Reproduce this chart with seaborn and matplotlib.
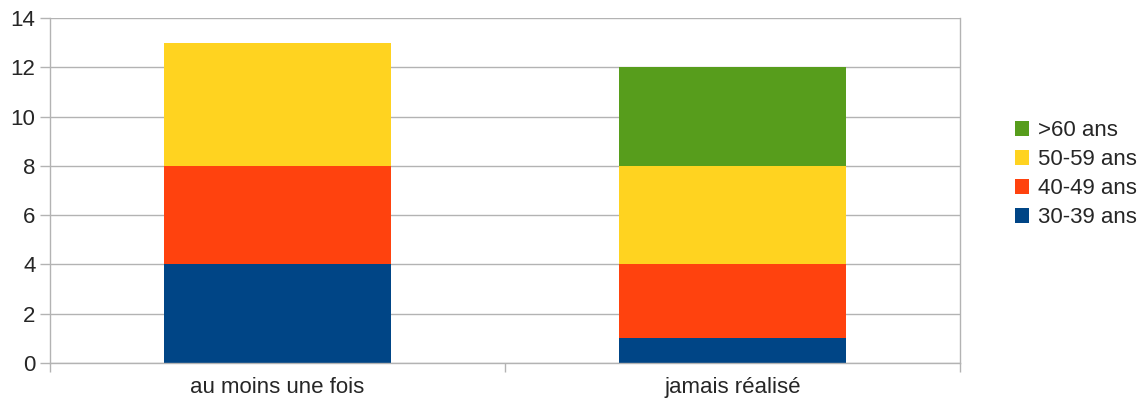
import numpy as np
import pandas as pd
import matplotlib
matplotlib.use("Agg")
import matplotlib.pyplot as plt
import seaborn as sns
from matplotlib.patches import Patch

categories = ["au moins une fois", "jamais réalisé"]
groups = ["30-39 ans", "40-49 ans", "50-59 ans", ">60 ans"]
v_30_39 = [4, 1]
v_40_49 = [4, 3]
v_50_59 = [5, 4]
v_60plus = [0, 4]
colors = ["#004586", "#ff420e", "#ffd320", "#579d1c"]

sns.set_theme(style="white")
plt.rcParams["font.family"] = ["Liberation Sans", "DejaVu Sans"]

series = [v_30_39, v_40_49, v_50_59, v_60plus]
cum = np.cumsum(np.array(series, dtype=float), axis=0)

fig = plt.figure(figsize=(11.41, 4.03), dpi=100)
ax = fig.add_axes([50 / 1141, 40 / 403, 910 / 1141, 345 / 403])

# Stacked bars: draw cumulative totals from the top segment down
for i in range(len(groups) - 1, -1, -1):
    df = pd.DataFrame({"cat": categories, "val": cum[i]})
    sns.barplot(data=df, x="cat", y="val", color=colors[i], width=0.5,
                saturation=1, ax=ax, zorder=2, linewidth=0)

ax.set_ylim(0, 14)
ax.set_xlim(-0.5, 1.5)
ax.set_yticks(np.arange(0, 15, 2))
ax.yaxis.grid(True, color="#b3b3b3", linewidth=1, zorder=0)
ax.set_axisbelow(True)
ax.set_xlabel("")
ax.set_ylabel("")

ax.spines["top"].set_visible(False)
for s in ["left", "right", "bottom"]:
    ax.spines[s].set_color("#b3b3b3")
    ax.spines[s].set_linewidth(1)

fs = 16
ax.tick_params(axis="y", length=7.2, width=1, color="#b3b3b3", labelsize=fs,
               pad=3.2, left=True)
# Category labels centred, tick marks between categories
ax.set_xticks([0, 1])
ax.set_xticklabels(categories)
ax.tick_params(axis="x", length=0, labelsize=fs, pad=10)
ax.set_xticks([-0.5, 0.5, 1.5], minor=True)
ax.tick_params(axis="x", which="minor", length=6.5, width=1, color="#b3b3b3",
               bottom=True)

handles = [Patch(facecolor=colors[i], edgecolor="none", label=groups[i])
           for i in range(len(groups) - 1, -1, -1)]
fig.legend(handles=handles, loc="center left", bbox_to_anchor=(1015 / 1141, 0.567),
           frameon=False, fontsize=fs, handlelength=0.62, handleheight=0.62,
           handletextpad=0.42, labelspacing=0.36, borderaxespad=0, borderpad=0)

fig.savefig("out.png", dpi=100)
